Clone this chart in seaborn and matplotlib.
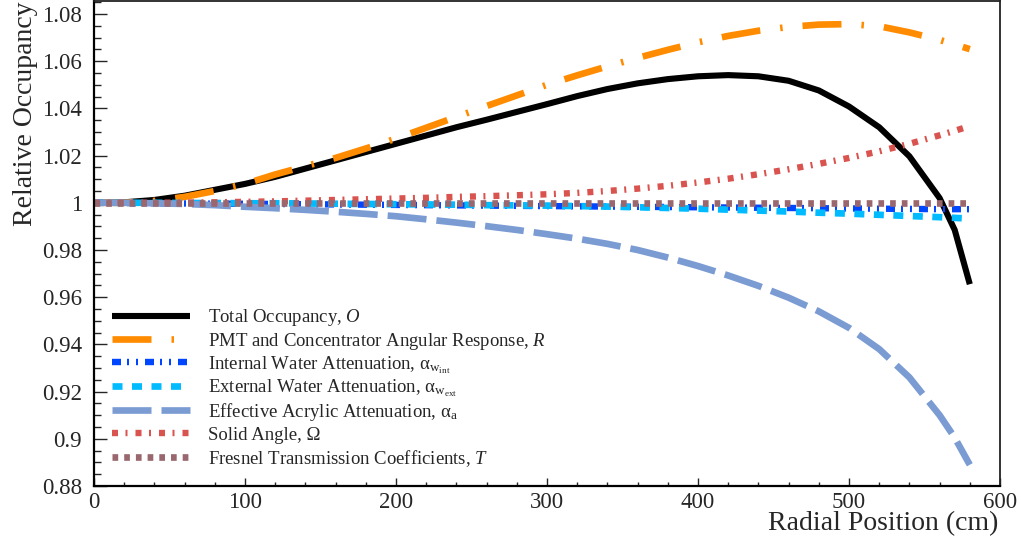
import numpy as np
import pandas as pd
import matplotlib
matplotlib.use("Agg")
import matplotlib.pyplot as plt
from matplotlib.ticker import MultipleLocator
import seaborn as sns

# ---------------- data ----------------
radius = [0, 20, 40, 60, 80, 100, 120, 140, 160, 180, 200, 220, 240, 260, 280,
          300, 320, 340, 360, 380, 400, 420, 440, 460, 480, 500, 520, 540, 560, 570, 580]

total = [1.0000, 1.0002, 1.0012, 1.0030, 1.0055, 1.0080, 1.0110, 1.0145, 1.0180, 1.0215,
         1.0250, 1.0285, 1.0320, 1.0352, 1.0385, 1.0418, 1.0452, 1.0482, 1.0506, 1.0524,
         1.0536, 1.0541, 1.0536, 1.0517, 1.0476, 1.0408, 1.0320, 1.0197, 1.0020, 0.9885, 0.9655]

pmt = [1.0000, 1.0000, 1.0008, 1.0025, 1.0050, 1.0080, 1.0120, 1.0155, 1.0190, 1.0230,
       1.0272, 1.0318, 1.0364, 1.0410, 1.0455, 1.0500, 1.0540, 1.0578, 1.0614, 1.0648,
       1.0680, 1.0707, 1.0729, 1.0745, 1.0755, 1.0757, 1.0748, 1.0722, 1.0690, 1.0671, 1.0651]

water_int = [1.0000, 0.9999, 0.9998, 0.9997, 0.9996, 0.9996, 0.9995, 0.9994, 0.9993, 0.9992,
             0.9991, 0.9990, 0.9989, 0.9988, 0.9987, 0.9986, 0.9985, 0.9984, 0.9983, 0.9982,
             0.9981, 0.9980, 0.9979, 0.9978, 0.9977, 0.9976, 0.9975, 0.9974, 0.9973, 0.9973, 0.9973]

water_ext = [1.0000, 1.0000, 1.0000, 0.9999, 0.9999, 0.9998, 0.9998, 0.9997, 0.9996, 0.9995,
             0.9994, 0.9993, 0.9992, 0.9990, 0.9989, 0.9988, 0.9986, 0.9984, 0.9981, 0.9978,
             0.9975, 0.9971, 0.9967, 0.9963, 0.9958, 0.9954, 0.9949, 0.9944, 0.9939, 0.9936, 0.9933]

acrylic = [1.0000, 1.0000, 0.9998, 0.9995, 0.9990, 0.9983, 0.9977, 0.9970, 0.9962, 0.9953,
           0.9943, 0.9930, 0.9916, 0.9901, 0.9885, 0.9867, 0.9848, 0.9826, 0.9800, 0.9768,
           0.9732, 0.9692, 0.9648, 0.9598, 0.9540, 0.9470, 0.9380, 0.9260, 0.9100, 0.9005, 0.8890]

solid_angle = [1.0000, 1.0000, 1.0000, 1.0001, 1.0002, 1.0004, 1.0006, 1.0009, 1.0012, 1.0015,
               1.0018, 1.0021, 1.0025, 1.0028, 1.0032, 1.0036, 1.0042, 1.0050, 1.0060, 1.0072,
               1.0086, 1.0102, 1.0121, 1.0142, 1.0165, 1.0190, 1.0218, 1.0250, 1.0286, 1.0305, 1.0325]

fresnel = [1.0000] * len(radius)

labels = [
    r"Total Occupancy, $\mathit{O}$",
    r"PMT and Concentrator Angular Response, $\mathit{R}$",
    r"Internal Water Attenuation, α$_{\mathrm{w}_{\mathrm{int}}}$",
    r"External Water Attenuation, α$_{\mathrm{w}_{\mathrm{ext}}}$",
    r"Effective Acrylic Attenuation, α$_{\mathrm{a}}$",
    r"Solid Angle, Ω",
    r"Fresnel Transmission Coefficients, $\mathit{T}$",
]
series = [total, pmt, water_int, water_ext, acrylic, solid_angle, fresnel]

colors = ["#000000", "#ff8c00", "#0046ff", "#00bbff", "#7b9bd3", "#d9534f", "#9a676f"]

px = 0.72  # points per pixel at dpi 100
dash_styles = [
    "-",
    (0, (39 * px, 20 * px, 2.5 * px, 20 * px)),
    (0, (9 * px, 6 * px, 2 * px, 7 * px, 2 * px, 7 * px)),
    (0, (10 * px, 9.5 * px)),
    (0, (39 * px, 10 * px)),
    (0, (6 * px, 7.5 * px, 2 * px, 8 * px)),
    (0, (5.7 * px, 6 * px)),
]
widths = [4.4, 4.8, 4.6, 4.8, 4.8, 4.6, 4.8]

# ---------------- style ----------------
sns.set_style("white")
plt.rcParams["font.family"] = ["Liberation Serif", "DejaVu Serif"]
plt.rcParams["mathtext.fontset"] = "custom"
plt.rcParams["mathtext.rm"] = "Liberation Serif"
plt.rcParams["mathtext.it"] = "Liberation Serif:italic"
plt.rcParams["mathtext.bf"] = "Liberation Serif:bold"
plt.rcParams["lines.scale_dashes"] = False

fig = plt.figure(figsize=(10.21, 5.42), dpi=100)
W, H = 1021, 542
ax = fig.add_axes([94 / W, (H - 486) / H, (1000 - 94) / W, (486 - 1) / H])

for y, lab, c, ls, lw in zip(series, labels, colors, dash_styles, widths):
    df = pd.DataFrame({"r": radius, "v": y})
    sns.lineplot(data=df, x="r", y="v", color=c, linewidth=lw, linestyle=ls,
                 label=lab, ax=ax, legend=False)

for ln in ax.get_lines():
    ln.set_dash_capstyle("butt")
    ln.set_solid_capstyle("butt")

ax.set_xlim(0, 600)
ax.set_ylim(0.88, 1.0855)
ax.xaxis.set_minor_locator(MultipleLocator(20))
ax.yaxis.set_minor_locator(MultipleLocator(0.005))
ax.set_yticks([0.88, 0.90, 0.92, 0.94, 0.96, 0.98, 1.00, 1.02, 1.04, 1.06, 1.08])
ax.set_yticklabels(["0.88", "0.9", "0.92", "0.94", "0.96", "0.98", "1", "1.02", "1.04", "1.06", "1.08"])
ax.set_xticks([0, 100, 200, 300, 400, 500, 600])
ax.set_xticklabels(["0", "100", "200", "300", "400", "500", "600"])

ax.tick_params(axis="y", which="major", direction="in", length=13 * px, width=1.0,
               labelsize=16.5, pad=8.5, left=True, right=False)
ax.tick_params(axis="y", which="minor", direction="in", length=7 * px, width=1.0, left=True, right=False)
ax.tick_params(axis="x", which="major", direction="in", length=8 * px, width=1.0,
               labelsize=16.5, pad=4.5, bottom=True, top=False)
ax.tick_params(axis="x", which="minor", direction="in", length=4 * px, width=1.0, bottom=True, top=False)

for side in ["left", "bottom"]:
    ax.spines[side].set_linewidth(1.6)
    ax.spines[side].set_color("black")
for side in ["top", "right"]:
    ax.spines[side].set_linewidth(1.3)
    ax.spines[side].set_color("#222222")
ax.set_xlabel("")
ax.set_ylabel("")

# legend: one single-entry legend per row, rows 23.4 px apart
handles = ax.get_lines()
row0 = 318
n = len(labels)
for i, (h, lab) in enumerate(zip(handles, labels)):
    ypix = row0 + i * 23.4
    leg = ax.legend(handles=[h], labels=[lab], loc="center left",
                    bbox_to_anchor=((112 - 94) / 906, (486 - ypix) / 485),
                    frameon=False, fontsize=13.5, handlelength=78 / 18.75,
                    handletextpad=18 / 18.75, borderpad=0, borderaxespad=0)
    if i < n - 1:
        ax.add_artist(leg)

fig.text(998 / W, 1 - 511 / H, "Radial Position (cm)", ha="right", va="top", fontsize=20)
fig.text(25 / W, 1 - 2 / H, "Relative Occupancy", ha="center", va="top", rotation=90, fontsize=20)

fig.savefig("out.png", dpi=100)
